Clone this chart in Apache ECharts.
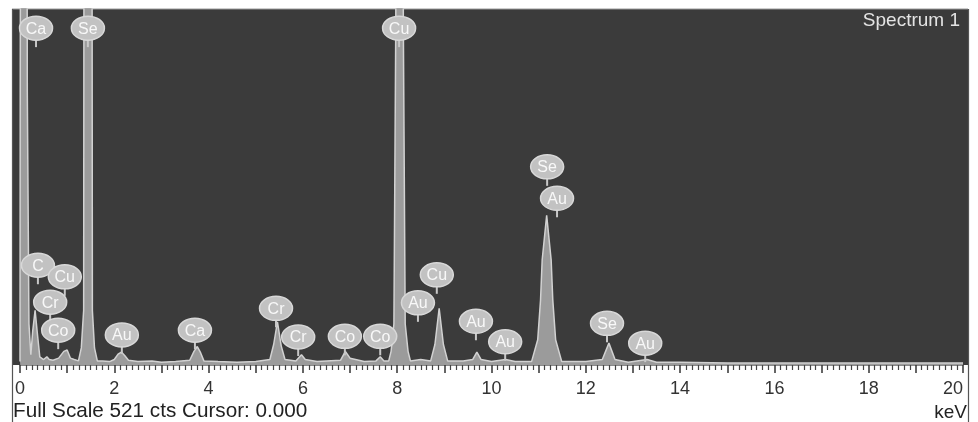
<!DOCTYPE html>
<html><head><meta charset="utf-8">
<script src="https://cdn.jsdelivr.net/npm/echarts@6/dist/echarts.min.js"></script>
<style>html,body{margin:0;padding:0;background:#fff}#c{width:978px;height:422px}</style>
</head><body><div id="c"></div>
<script>
// Spectrum outline (energy in keV, counts)
const energyKeV = [0.00,0.005,0.08,0.155,0.19,0.23,0.27,0.32,0.37,0.42,0.50,0.57,0.62,0.70,0.82,0.93,1.00,1.07,1.15,1.24,1.30,1.35,1.355,1.442,1.53,1.535,1.58,1.64,1.75,1.90,2.00,2.08,2.15,2.22,2.30,2.50,2.80,3.00,3.30,3.60,3.69,3.76,3.83,3.90,4.20,4.60,5.00,5.30,5.38,5.46,5.54,5.62,5.85,5.97,6.05,6.30,6.50,6.80,6.90,7.00,7.30,7.55,7.64,7.72,7.82,7.87,7.93,7.97,8.05,8.13,8.17,8.23,8.28,8.50,8.71,8.80,8.89,8.98,9.07,9.40,9.60,9.69,9.78,10.00,10.30,10.50,10.85,10.98,11.04,11.075,11.17,11.265,11.30,11.36,11.49,11.60,12.00,12.35,12.49,12.62,12.90,13.30,13.50,14.00,15.00,16.00,17.00,18.00,19.00,20.00];
const counts    = [5,400,4000,400,60,15,50,80,45,12,8,12,8,7,10,20,22,10,8,6,25,80,500,4000,500,80,25,6,6,5,8,16,19,14,7,5,6,4,5,7,20,27,18,6,5,4,5,8,30,63,28,8,6,15,8,5,6,7,20,10,5,6,12,6,6,20,60,500,4000,500,60,20,6,8,6,30,83,30,6,6,8,19,8,5,8,5,5,37,95,154,219,154,95,37,5,5,5,8,32,8,4,8,4,4,3,3,3,3,3,3];

// Element annotations: name, line energy (keV), label height (counts)
const peakNames = ['Ca','Se','Cu','C','Cu','Cr','Co','Au','Ca','Cr','Cr','Co','Co','Au','Cu','Au','Au','Se','Au','Se','Au'];
const peakKeV   = [0.34,1.44,8.04,0.38,0.95,0.64,0.81,2.16,3.71,5.43,5.90,6.89,7.64,8.44,8.84,9.67,10.29,11.18,11.39,12.45,13.26];
const peakLabelCounts = [493,493,493,146,129,92,51,44,51,83,41,42,42,91,132,64,34,290,244,61,32];

const tickLabels = ['0','2','4','6','8','10','12','14','16','18','20'];
const fullScale = 521;

const chart = echarts.init(document.getElementById('c'), null, {renderer:'canvas'});
const FONT = '"Liberation Sans", Arial, sans-serif';
chart.setOption({
  animation:false,
  backgroundColor:'#ffffff',
  grid:{left:20,right:15,top:9,bottom:57},
  xAxis:{
    type:'value',min:0,max:20,interval:1,
    axisLine:{show:true,lineStyle:{color:'#8a8a8a',width:1}},
    axisTick:{show:true,length:8,lineStyle:{color:'#333',width:1.5}},
    minorTick:{show:true,splitNumber:8,length:5,lineStyle:{color:'#444',width:1.2}},
    splitLine:{show:false},
    axisLabel:{margin:15,fontSize:18,color:'#333',fontFamily:FONT,alignMaxLabel:'right',
      formatter:v=>tickLabels.indexOf(String(v))>=0?String(v):''}
  },
  yAxis:{type:'value',min:0,max:fullScale,show:false},
  graphic:[
    {type:'rect',z:0,shape:{x:12,y:9,width:956,height:356},style:{fill:'#3b3b3b'}},
    {type:'line',z:0,shape:{x1:12,y1:9,x2:968,y2:9},style:{stroke:'#9a9a9a',lineWidth:1}},
    {type:'line',z:10,shape:{x1:12.5,y1:9,x2:12.5,y2:422},style:{stroke:'#555',lineWidth:1.2}},
    {type:'line',z:10,shape:{x1:968.5,y1:9,x2:968.5,y2:422},style:{stroke:'#555',lineWidth:1.2}},
    {type:'text',z:10,style:{text:'Spectrum 1',x:960,y:21,align:'right',verticalAlign:'middle',fill:'#e4e4e4',font:'19px '+FONT}},
    {type:'text',z:10,style:{text:'Full Scale '+fullScale+' cts Cursor: 0.000',x:13,y:411,align:'left',verticalAlign:'middle',fill:'#222',font:'20.7px '+FONT}},
    {type:'text',z:10,style:{text:'keV',x:967,y:413,align:'right',verticalAlign:'middle',fill:'#222',font:'19px '+FONT}}
  ],
  series:[
    {type:'line',data:energyKeV.map((e,i)=>[e,counts[i]]),symbol:'none',clip:true,z:2,
     lineStyle:{color:'#d2d2d2',width:1.5},areaStyle:{color:'#9b9b9b',opacity:1}},
    {type:'custom',z:5,clip:false,
     data:peakKeV.map((e,i)=>[e,peakLabelCounts[i]]),
     renderItem:function(params,api){
       const i=params.dataIndex;
       const p=api.coord([api.value(0),api.value(1)]);
       return {type:'group',children:[
         {type:'line',shape:{x1:p[0],y1:p[1]+10,x2:p[0],y2:p[1]+19},style:{stroke:'#c8c8c8',lineWidth:2}},
         {type:'ellipse',shape:{cx:p[0],cy:p[1],rx:16.5,ry:12},style:{fill:'#c2c2c2',stroke:'#d8d8d8',lineWidth:1.5}},
         {type:'text',style:{text:peakNames[i],x:p[0],y:p[1]+1,align:'center',verticalAlign:'middle',fill:'#f8f8f8',font:'16px '+FONT}}
       ]};
     }}
  ]
});
</script></body></html>
